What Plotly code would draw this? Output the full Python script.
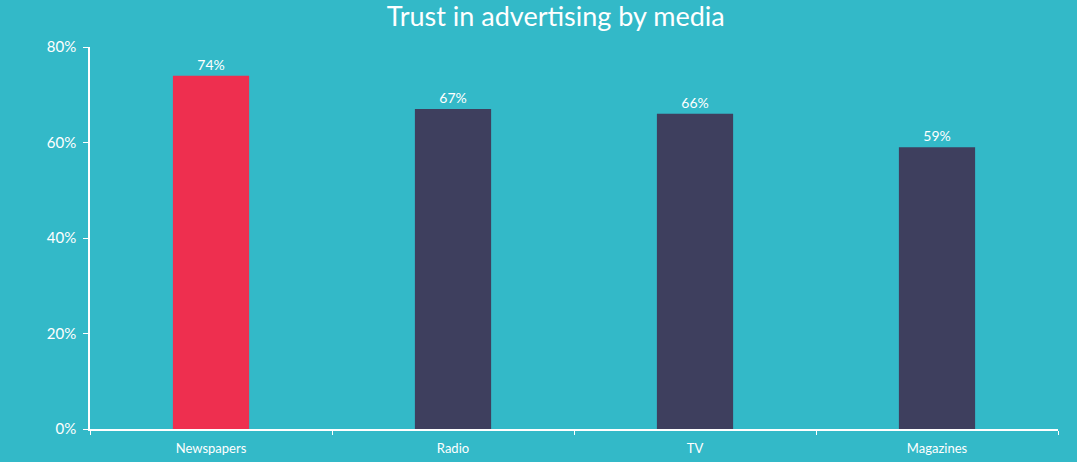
import plotly.graph_objects as go

categories = ["Newspapers", "Radio", "TV", "Magazines"]
values = [74, 67, 66, 59]
bar_colors = ["#EE2F4F", "#3E3F5E", "#3E3F5E", "#3E3F5E"]
y_ticks = [0, 20, 40, 60, 80]
y_tick_labels = ["0%", "20%", "40%", "60%", "80%"]

bg = "#33B9C8"
font_family = "Lato, 'Open Sans', sans-serif"

fig = go.Figure(
    go.Bar(
        x=categories,
        y=values,
        marker=dict(color=bar_colors, line=dict(width=0)),
        width=0.315,
        text=[f"{v}%" for v in values],
        textposition="outside",
        textfont=dict(color="white", size=14, family=font_family),
        cliponaxis=False,
    )
)

fig.update_layout(
    width=1077,
    height=462,
    paper_bgcolor=bg,
    plot_bgcolor=bg,
    margin=dict(l=90, r=19, t=47, b=33),
    showlegend=False,
    title=dict(
        text="Trust in advertising by media",
        x=0.516,
        xref="container",
        xanchor="center",
        y=0.965,
        yref="container",
        yanchor="middle",
        font=dict(color="white", size=27, family=font_family),
    ),
    font=dict(color="white", family=font_family),
    xaxis=dict(
        showline=True,
        linecolor="white",
        linewidth=1.5,
        ticks="outside",
        tickson="boundaries",
        ticklen=4,
        tickcolor="white",
        tickfont=dict(color="white", size=13, family=font_family),
        ticklabelstandoff=7,
        automargin=False,
        showgrid=False,
    ),
    yaxis=dict(
        range=[0, 80],
        tickvals=y_ticks,
        ticktext=y_tick_labels,
        showline=True,
        linecolor="white",
        linewidth=1.5,
        ticks="outside",
        ticklen=5,
        tickcolor="white",
        tickfont=dict(color="white", size=15, family=font_family),
        ticklabelstandoff=4,
        automargin=False,
        showgrid=False,
        zeroline=False,
    ),
)

fig.write_html(
    "out.html",
    config={"displayModeBar": False},
    post_script="document.body.style.margin='0';",
)
